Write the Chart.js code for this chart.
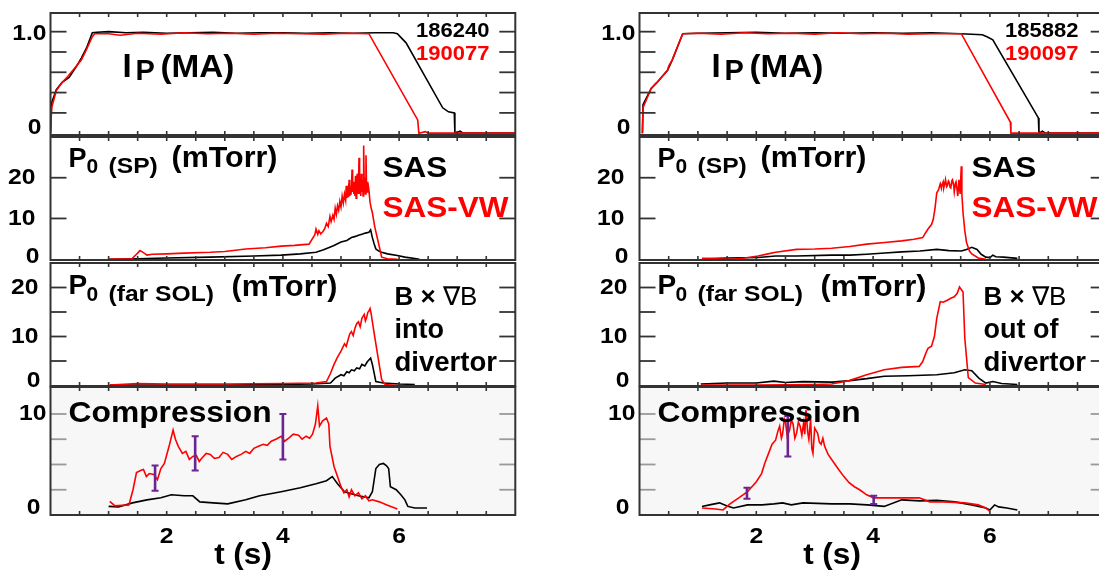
<!DOCTYPE html>
<html><head><meta charset="utf-8">
<script src="https://cdn.jsdelivr.net/npm/chart.js@4.4.1/dist/chart.umd.min.js"></script>
<style>
html,body{margin:0;padding:0;width:1099px;height:577px;overflow:hidden;background:#fff;}
body{position:relative;}
canvas{position:absolute;top:0;}
</style></head><body>
<script>
// ---------------- DATA ----------------
const shotsLeft = ['186240', '190077'];
const shotsRight = ['185882', '190097'];
const xTicks = [0.5, 1, 1.5, 2, 2.5, 3, 3.5, 4, 4.5, 5, 5.5, 6, 6.5, 7, 7.5, 8];
const xLabels = [2, 4, 6];

// Ip (MA) left
const ipL_blk_t = [0, 0.02, 0.1, 0.2, 0.32, 0.45, 0.53, 0.62, 0.72, 0.8, 1.0, 1.3, 1.6, 2.0, 2.4, 2.8, 3.2, 3.6, 4.0, 4.4, 4.8, 5.2, 5.6, 5.9, 5.97, 6.12, 6.75, 6.85, 6.95, 6.96, 7.05, 7.1, 8.0];
const ipL_blk_v = [0, 0.3, 0.43, 0.5, 0.55, 0.66, 0.74, 0.84, 0.99, 0.995, 1.0, 0.99, 0.995, 0.985, 0.99, 0.995, 0.985, 0.99, 0.99, 0.985, 0.99, 0.985, 0.99, 0.99, 0.98, 0.89, 0.25, 0.21, 0.2, 0.0, 0.02, 0.0, 0.0];
const ipL_red_t = [0, 0.02, 0.1, 0.2, 0.3, 0.4, 0.5, 0.53, 0.6, 0.72, 0.76, 1.0, 1.2, 1.5, 1.9, 2.3, 2.7, 3.1, 3.5, 3.9, 4.3, 4.7, 5.1, 5.48, 6.32, 6.34, 6.45, 6.5, 8.0];
const ipL_red_v = [0, 0.25, 0.42, 0.5, 0.56, 0.63, 0.7, 0.72, 0.8, 0.95, 0.98, 0.98, 0.965, 0.985, 0.975, 0.99, 0.98, 0.985, 0.975, 0.985, 0.98, 0.975, 0.985, 0.98, 0.13, 0.0, 0.015, 0.0, 0.0];
// Ip (MA) right
const ipR_blk_t = [0.05, 0.06, 0.2, 0.3, 0.48, 0.56, 0.74, 1.0, 1.5, 2.0, 2.5, 3.0, 3.5, 4.0, 4.5, 5.0, 5.5, 5.87, 5.95, 6.05, 6.83, 6.84, 6.9, 6.95, 8.0];
const ipR_blk_v = [0, 0.28, 0.44, 0.5, 0.62, 0.72, 0.98, 0.985, 0.99, 0.995, 0.985, 0.99, 0.985, 0.99, 0.985, 0.99, 0.98, 0.97, 0.95, 0.92, 0.15, 0.0, 0.02, 0.0, 0.0];
const ipR_red_t = [0.05, 0.06, 0.2, 0.3, 0.48, 0.5, 0.56, 0.74, 1.0, 1.4, 1.8, 2.2, 2.6, 3.0, 3.4, 3.8, 4.2, 4.6, 5.0, 5.51, 6.35, 6.36, 8.0];
const ipR_red_v = [0, 0.25, 0.44, 0.5, 0.62, 0.66, 0.72, 0.98, 0.985, 0.975, 0.99, 0.98, 0.985, 0.975, 0.99, 0.98, 0.985, 0.975, 0.98, 0.98, 0.11, 0.0, 0.0];

// P0 (SP) left
const spL_blk_t = [0.99, 1.5, 2.0, 2.75, 3.5, 3.97, 4.3, 4.57, 4.7, 4.87, 5.0, 5.1, 5.18, 5.25, 5.3, 5.36, 5.42, 5.48, 5.51, 5.54, 5.57, 5.6, 5.65, 5.7, 5.8, 5.97, 6.1, 6.3, 6.35];
const spL_blk_v = [0, 0.1, 0.3, 0.5, 0.8, 1.0, 1.3, 1.7, 2.3, 3.3, 4.2, 4.6, 5.3, 5.6, 5.9, 6.1, 6.4, 6.6, 7.2, 5.3, 3.8, 2.5, 2.0, 1.7, 1.3, 0.9, 0.5, 0.1, 0];
const spL_red_t = [0.99, 1.4, 1.48, 1.54, 1.6, 1.66, 1.75, 2.0, 2.3, 2.75, 3.0, 3.36, 3.7, 3.97, 4.2, 4.45, 4.55, 4.57, 4.6, 4.62, 4.65, 4.69, 4.72, 4.75, 4.78, 4.81, 4.83, 4.86, 4.88, 4.9, 4.92, 4.94, 4.96, 4.98, 5.0, 5.02, 5.04, 5.06, 5.08, 5.09, 5.1, 5.12, 5.13, 5.14, 5.15, 5.16, 5.17, 5.18, 5.19, 5.2, 5.21, 5.22, 5.23, 5.24, 5.25, 5.26, 5.27, 5.28, 5.29, 5.3, 5.31, 5.32, 5.33, 5.34, 5.35, 5.36, 5.37, 5.38, 5.39, 5.4, 5.41, 5.42, 5.43, 5.44, 5.45, 5.46, 5.48, 5.5, 5.52, 5.54, 5.58, 5.63, 5.7, 5.8, 5.97];
const spL_red_v = [0, 0.1, 1.2, 2.1, 1.6, 1.0, 1.2, 1.3, 1.5, 1.7, 1.9, 2.5, 2.8, 3.2, 3.4, 3.7, 6.0, 7.4, 6.1, 7.0, 6.2, 6.8, 7.5, 8.8, 8.0, 10.5, 9.2, 10.8, 9.8, 12.5, 11.0, 13.1, 12.0, 14.2, 12.8, 15.5, 13.8, 16.0, 14.5, 18.0, 15.0, 17.0, 15.2, 19.5, 15.5, 18.0, 15.8, 17.1, 22.0, 16.5, 19.0, 16.0, 18.0, 15.5, 20.5, 15.0, 18.5, 21.0, 16.0, 17.5, 24.9, 16.0, 19.0, 15.5, 21.0, 16.5, 19.5, 15.5, 27.9, 17.5, 20.0, 16.0, 25.5, 17.0, 16.5, 19.0, 17.0, 14.0, 12.5, 11.4, 8.0, 4.9, 0.5, 0.1, 0];
// P0 (SP) right
const spR_blk_t = [1.07, 1.5, 2.03, 2.33, 2.69, 3.29, 3.6, 3.89, 4.2, 4.49, 4.8, 5.09, 5.3, 5.51, 5.6, 5.69, 5.78, 5.85, 5.93, 6.0, 6.05, 6.1, 6.23, 6.47];
const spR_blk_v = [0.1, 0.3, 0.4, 0.8, 0.8, 1.0, 1.0, 1.2, 1.5, 1.8, 2.0, 2.4, 2.1, 2.0, 2.4, 2.9, 2.4, 1.2, 0.5, 0.4, 1.0, 0.6, 0.5, 0.2];
const spR_red_t = [1.07, 1.3, 1.61, 1.8, 2.03, 2.2, 2.33, 2.69, 3.0, 3.29, 3.6, 3.89, 4.2, 4.49, 4.7, 4.85, 4.9, 4.94, 5.0, 5.03, 5.06, 5.09, 5.12, 5.15, 5.17, 5.18, 5.2, 5.21, 5.23, 5.24, 5.26, 5.27, 5.29, 5.3, 5.32, 5.33, 5.35, 5.36, 5.38, 5.39, 5.41, 5.42, 5.44, 5.45, 5.47, 5.49, 5.51, 5.52, 5.54, 5.57, 5.6, 5.65, 5.69, 5.8, 5.93];
const spR_red_v = [0.2, 0.1, 0, 0.3, 0.8, 1.3, 1.7, 2.4, 2.5, 2.7, 3.1, 3.7, 4.1, 4.5, 4.9, 5.3, 6.5, 7.4, 8.5, 9.8, 12.5, 16.3, 17.0, 18.5, 17.4, 18.3, 19.0, 17.5, 18.6, 19.5, 17.8, 18.0, 19.2, 19.0, 17.6, 17.5, 19.3, 19.5, 18.1, 16.5, 18.7, 19.0, 16.8, 15.5, 19.5, 16.0, 22.8, 16.0, 11.4, 7.0, 4.1, 2.0, 1.3, 0.3, 0];

// P0 (far SOL) left
const fsL_blk_t = [1.02, 2.0, 3.0, 4.0, 4.5, 4.82, 4.9, 5.0, 5.05, 5.1, 5.14, 5.18, 5.23, 5.27, 5.32, 5.36, 5.41, 5.45, 5.51, 5.54, 5.6, 5.73, 6.0, 6.27];
const fsL_blk_v = [0.1, 0.1, 0.1, 0.2, 0.3, 0.5, 1.5, 2.2, 2.0, 2.8, 2.6, 3.2, 3.0, 3.6, 3.4, 4.3, 4.0, 4.8, 5.6, 4.3, 0.8, 0.5, 0.3, 0.2];
const fsL_red_t = [1.02, 1.5, 2.0, 3.0, 4.0, 4.57, 4.75, 4.82, 4.88, 4.94, 5.0, 5.06, 5.09, 5.12, 5.15, 5.18, 5.21, 5.24, 5.27, 5.3, 5.33, 5.36, 5.4, 5.42, 5.44, 5.46, 5.48, 5.5, 5.52, 5.54, 5.58, 5.63, 5.7, 5.76, 5.97];
const fsL_red_v = [0.1, 0.4, 0.3, 0.3, 0.4, 0.5, 0.8, 2.5, 4.3, 5.8, 7.0, 8.5, 8.0, 9.3, 10.5, 11.0, 10.2, 11.7, 12.6, 13.0, 12.0, 13.7, 14.5, 13.2, 13.8, 14.9, 15.2, 15.7, 14.6, 13.0, 10.0, 6.3, 1.2, 0.2, 0];
// P0 (far SOL) right
const fsR_blk_t = [1.05, 1.5, 2.0, 2.3, 2.5, 2.8, 3.3, 3.6, 3.89, 4.19, 4.6, 5.09, 5.39, 5.57, 5.69, 5.81, 5.93, 6.05, 6.2, 6.47];
const fsR_blk_v = [0.3, 0.5, 0.5, 0.9, 0.6, 0.8, 0.7, 1.0, 1.4, 1.9, 2.0, 2.2, 2.6, 3.2, 3.0, 1.5, 0.5, 0.8, 0.4, 0.2];
const fsR_red_t = [1.07, 2.0, 3.0, 3.29, 3.59, 3.89, 4.19, 4.49, 4.79, 4.85, 4.9, 4.94, 5.0, 5.05, 5.09, 5.15, 5.2, 5.27, 5.33, 5.39, 5.44, 5.48, 5.54, 5.57, 5.63, 5.75, 5.93];
const fsR_red_v = [0.1, 0.1, 0.2, 0.3, 1.0, 2.2, 3.2, 3.7, 3.9, 4.9, 6.5, 7.6, 8.0, 10.0, 13.7, 17.1, 17.0, 17.4, 17.8, 18.1, 18.8, 20.1, 19.1, 9.7, 1.6, 0.5, 0.2];

// Compression left
const cpL_blk_t = [1.0, 1.17, 1.41, 1.66, 1.9, 2.08, 2.3, 2.45, 2.57, 2.8, 3.05, 3.36, 3.6, 3.97, 4.3, 4.57, 4.75, 4.85, 4.94, 5.06, 5.3, 5.48, 5.54, 5.6, 5.66, 5.73, 5.78, 5.82, 5.85, 5.95, 6.03, 6.1, 6.15, 6.27, 6.48];
const cpL_blk_v = [0.85, 0.8, 1.2, 1.5, 1.7, 2.0, 1.9, 1.9, 1.3, 1.2, 1.1, 1.5, 1.9, 2.3, 2.7, 3.1, 3.4, 3.8, 3.1, 2.3, 1.9, 1.7, 2.3, 4.6, 5.0, 5.1, 4.9, 4.6, 2.8, 2.5, 2.0, 1.5, 0.85, 0.7, 0.7];
const cpL_red_t = [1.02, 1.11, 1.35, 1.42, 1.48, 1.55, 1.6, 1.65, 1.7, 1.78, 1.84, 1.9, 1.96, 2.05, 2.11, 2.15, 2.2, 2.27, 2.33, 2.39, 2.45, 2.51, 2.56, 2.6, 2.68, 2.75, 2.82, 2.9, 2.97, 3.05, 3.12, 3.2, 3.28, 3.36, 3.43, 3.5, 3.58, 3.66, 3.73, 3.8, 3.88, 3.97, 4.03, 4.1, 4.18, 4.27, 4.33, 4.4, 4.46, 4.51, 4.56, 4.6, 4.63, 4.68, 4.75, 4.79, 4.81, 4.88, 4.94, 5.0, 5.05, 5.1, 5.14, 5.18, 5.24, 5.3, 5.36, 5.42, 5.48, 5.54, 5.66, 5.79, 5.97];
const cpL_red_v = [1.35, 0.9, 1.0, 2.5, 4.2, 4.4, 4.5, 3.8, 4.1, 4.0, 3.5, 4.6, 5.1, 7.0, 8.4, 7.5, 6.8, 6.1, 6.3, 5.5, 5.8, 5.9, 5.3, 5.6, 6.1, 6.0, 5.6, 5.7, 6.2, 6.0, 5.5, 5.8, 6.0, 6.3, 6.1, 6.6, 6.8, 7.0, 6.9, 7.3, 7.5, 7.8, 7.3, 7.6, 8.0, 7.9, 7.5, 7.8, 7.6, 8.0, 9.0, 10.8, 8.8, 9.3, 9.6, 9.0, 6.8, 4.8, 3.8, 2.8, 2.2, 2.5, 1.8, 2.5, 1.9, 2.2, 1.6, 1.9, 1.4, 1.5, 1.3, 1.0, 0.6];
const ebL_t = [1.8, 2.49, 4.0];
const ebL_lo = [2.4, 4.4, 5.5];
const ebL_hi = [4.9, 7.8, 10.0];
// Compression right
const cpR_blk_t = [1.07, 1.2, 1.37, 1.5, 1.61, 1.85, 2.1, 2.3, 2.45, 2.6, 2.8, 3.29, 3.6, 3.9, 4.19, 4.49, 4.8, 5.09, 5.4, 5.69, 5.93, 6.0, 6.08, 6.15, 6.29, 6.47];
const cpR_blk_v = [0.85, 1.0, 1.2, 0.9, 0.7, 1.0, 1.0, 1.1, 1.2, 1.0, 1.2, 1.1, 1.1, 1.0, 0.85, 1.5, 1.4, 1.45, 1.3, 1.0, 0.7, 0.5, 1.0, 0.8, 0.7, 0.5];
const cpR_red_t = [1.07, 1.3, 1.43, 1.55, 1.7, 1.85, 2.0, 2.09, 2.15, 2.21, 2.27, 2.33, 2.37, 2.4, 2.43, 2.45, 2.48, 2.5, 2.53, 2.57, 2.6, 2.63, 2.66, 2.69, 2.72, 2.75, 2.78, 2.81, 2.83, 2.85, 2.88, 2.9, 2.93, 2.95, 2.97, 3.0, 3.05, 3.08, 3.11, 3.14, 3.17, 3.23, 3.29, 3.35, 3.41, 3.5, 3.59, 3.68, 3.77, 3.89, 4.01, 4.2, 4.49, 4.79, 4.97, 5.2, 5.57, 5.8, 5.93, 5.99];
const cpR_red_v = [0.7, 0.6, 0.5, 1.1, 1.7, 2.3, 3.3, 4.1, 5.2, 6.1, 7.0, 7.4, 8.3, 8.8, 7.6, 8.0, 9.5, 9.2, 7.8, 8.4, 9.4, 9.0, 7.6, 8.1, 9.2, 8.8, 7.9, 9.1, 8.0, 10.4, 8.2, 7.5, 9.5, 6.6, 6.1, 8.6, 8.1, 7.2, 7.0, 7.6, 6.8, 6.0, 5.5, 5.0, 4.5, 3.8, 3.2, 2.8, 2.5, 2.0, 1.7, 1.7, 1.7, 1.7, 1.3, 1.3, 1.2, 1.0, 0.7, 0.4];
const ebR_t = [1.84, 2.54, 4.01];
const ebR_lo = [1.6, 5.8, 1.1];
const ebR_hi = [2.7, 9.8, 1.9];

// ---------------- LAYOUT / STYLE ----------------
const FONT = "'Liberation Sans', Arial, Helvetica, sans-serif";
const RED = '#ff0000', BLACK = '#000000', PURPLE = '#6a2590';
const H = 577;
const columns = [
  {left: 0, width: 549, plotL: 50.5, plotR: 515.3},
  {left: 550, width: 580, plotL: 639.5, plotR: 1106.7}
];
const panelGeom = [
  {top: 13, bottom: 135, ymin: -0.018, ymax: 1.184, yTicks: [0.2, 0.4, 0.6, 0.8, 1.0],
   yLabels: [[1.0, '1.0', -4, 2], [0, '0', -9, -5]], tickColor: '#333'},
  {top: 137, bottom: 260, ymin: -0.2, ymax: 30, yTicks: [10, 20],
   yLabels: [[20, '20', -15, 0], [10, '10', -15, 0], [0, '0', -11, -2]], tickColor: '#333'},
  {top: 263, bottom: 386, ymin: -0.1, ymax: 25, yTicks: [5, 10, 15, 20],
   yLabels: [[20, '20', -12, 0], [10, '10', -12, 0], [0, '0', -10, -5]], tickColor: '#333'},
  {top: 387, bottom: 515, ymin: 0, ymax: 12.67, yTicks: [2.5, 5, 7.5, 10],
   yLabels: [[10, '10', -4, 0], [0, '0', -10, -7]], tickColor: '#9a9a9a', bg: '#f7f7f7'}
];

function pts(t, v) { return t.map((x, i) => ({x: x, y: v[i]})); }
function lineDs(t, v, color) {
  return {data: pts(t, v), borderColor: color, borderWidth: 1.6, pointRadius: 0, tension: 0, fill: false};
}
function errDs(t, lo, hi) {
  return t.map((x, i) => ({
    data: [{x: x, y: lo[i]}, {x: x, y: hi[i]}], borderColor: PURPLE, borderWidth: 2.6,
    pointStyle: 'line', pointRadius: 3.5, pointBorderWidth: 2, pointBorderColor: PURPLE, tension: 0
  }));
}

function txt(ctx, s, x, y, size, o) {
  o = o || {};
  ctx.save();
  ctx.font = (o.weight || 'bold') + ' ' + size + 'px ' + FONT;
  ctx.fillStyle = o.color || '#000';
  ctx.textAlign = o.align || 'left';
  ctx.textBaseline = o.baseline || 'alphabetic';
  ctx.translate(x, y);
  ctx.scale(o.sx || 1, 1);
  ctx.fillText(s, 0, 0);
  const w = ctx.measureText(s).width * (o.sx || 1);
  ctx.restore();
  return w;
}

function annotations(ci, pi) {
  const right = ci === 1;
  const shots = right ? shotsRight : shotsLeft;
  if (pi === 0) return [
    {s: 'I', dx: 72, y: 77, size: 33},
    {s: 'P', dx: 85, y: 80, size: 29},
    {s: '(MA)', dx: 110, y: 77, size: 32, sx: 1.04},
    {s: shots[0], dx: 439, y: 37, size: 20, sx: 1.1, align: 'right'},
    {s: shots[1], dx: 439, y: 60, size: 20, sx: 1.1, align: 'right', color: RED}
  ];
  if (pi === 1) return [
    {s: 'P', dx: 18, y: 167, size: 27},
    {s: '0', dx: 36, y: 173, size: 20, sx: 1.05},
    {s: '(SP)', dx: 58, y: 173, size: 22, sx: 1.12},
    {s: '(mTorr)', dx: 121, y: 167, size: 29, sx: 1.05},
    {s: 'SAS', dx: 332, y: 177, size: 30, sx: 1.05},
    {s: 'SAS-VW', dx: 332, y: 217, size: 30, sx: 1.05, color: RED}
  ];
  if (pi === 2) return [
    {s: 'P', dx: 18, y: 294, size: 28},
    {s: '0', dx: 36, y: 301, size: 20, sx: 1.05},
    {s: '(far SOL)', dx: 58, y: 301, size: 22, sx: 1.12},
    {s: '(mTorr)', dx: 181, y: 296, size: 29, sx: 1.05},
    {parts: [{s: 'B \u00d7 ', weight: 'bold'}, {s: '\u2207B', weight: 'normal'}], dx: 344, y: 305, size: 26},
    {s: right ? 'out of' : 'into', dx: 344, y: 338, size: 27},
    {s: 'divertor', dx: 344, y: 371, size: 27, sx: 1.02}
  ];
  return [
    {s: 'Compression', dx: 18, y: 422, size: 30, sx: 1.06},
    {s: 't (s)', dx: 192.5, y: 564, size: 30, sx: 1.05, align: 'center'}
  ];
}

function framePlugin(ci, pi) {
  const g = panelGeom[pi];
  return {
    id: 'frame' + ci + pi,
    beforeDatasetsDraw(chart) {
      const {ctx, chartArea: a} = chart;
      if (g.bg) {
        ctx.save(); ctx.fillStyle = g.bg;
        ctx.fillRect(a.left, a.top, a.right - a.left, a.bottom - a.top);
        ctx.restore();
      }
    },
    afterDatasetsDraw(chart) {
      const {ctx, chartArea: a} = chart;
      const xs = chart.scales.x, ys = chart.scales.y;
      ctx.save();
      const seg = (x1, y1, x2, y2) => { ctx.beginPath(); ctx.moveTo(x1, y1); ctx.lineTo(x2, y2); ctx.stroke(); };
      ctx.strokeStyle = '#333'; ctx.lineWidth = 1.6;
      for (const t of xTicks) {
        const px = xs.getPixelForValue(t);
        if (px >= a.right - 1) continue;
        seg(px, a.top, px, a.top + 4);
        seg(px, a.bottom, px, a.bottom - 4);
      }
      ctx.strokeStyle = g.tickColor; ctx.lineWidth = 1.8;
      for (const v of g.yTicks) {
        const py = ys.getPixelForValue(v);
        seg(a.left, py, a.left + 16, py);
        seg(a.right, py, a.right - 16, py);
      }
      ctx.strokeStyle = '#333'; ctx.lineWidth = 2;
      ctx.strokeRect(a.left, a.top, a.right - a.left, a.bottom - a.top);
      ctx.restore();
    },
    afterDraw(chart) {
      const {ctx, chartArea: a} = chart;
      const xs = chart.scales.x, ys = chart.scales.y;
      for (const [v, s, dx, dy] of g.yLabels) {
        txt(ctx, s, a.left + dx, ys.getPixelForValue(v) + dy, 22, {align: 'right', baseline: 'middle', sx: 1.12});
      }
      if (pi === 3) {
        for (const t of xLabels) {
          txt(ctx, String(t), xs.getPixelForValue(t), 537, 22, {align: 'center', baseline: 'middle', sx: 1.12});
        }
      }
      for (const an of annotations(ci, pi)) {
        if (an.parts) {
          let x = a.left + an.dx;
          for (const p of an.parts) {
            x += txt(ctx, p.s, x, an.y, an.size, {weight: p.weight, sx: an.sx});
          }
        } else {
          txt(ctx, an.s, a.left + an.dx, an.y, an.size, {color: an.color, sx: an.sx, align: an.align});
        }
      }
    }
  };
}

const panelData = [
  [ // left column
    [lineDs(ipL_red_t, ipL_red_v, RED), lineDs(ipL_blk_t, ipL_blk_v, BLACK)],
    [lineDs(spL_red_t, spL_red_v, RED), lineDs(spL_blk_t, spL_blk_v, BLACK)],
    [lineDs(fsL_red_t, fsL_red_v, RED), lineDs(fsL_blk_t, fsL_blk_v, BLACK)],
    [...errDs(ebL_t, ebL_lo, ebL_hi), lineDs(cpL_red_t, cpL_red_v, RED), lineDs(cpL_blk_t, cpL_blk_v, BLACK)]
  ],
  [ // right column
    [lineDs(ipR_red_t, ipR_red_v, RED), lineDs(ipR_blk_t, ipR_blk_v, BLACK)],
    [lineDs(spR_red_t, spR_red_v, RED), lineDs(spR_blk_t, spR_blk_v, BLACK)],
    [lineDs(fsR_red_t, fsR_red_v, RED), lineDs(fsR_blk_t, fsR_blk_v, BLACK)],
    [...errDs(ebR_t, ebR_lo, ebR_hi), lineDs(cpR_red_t, cpR_red_v, RED), lineDs(cpR_blk_t, cpR_blk_v, BLACK)]
  ]
];

columns.forEach((col, ci) => {
  panelGeom.forEach((g, pi) => {
    const cv = document.createElement('canvas');
    cv.width = col.width; cv.height = H;
    cv.style.left = col.left + 'px';
    cv.style.width = col.width + 'px'; cv.style.height = H + 'px';
    document.body.appendChild(cv);
    new Chart(cv, {
      type: 'line',
      data: {datasets: panelData[ci][pi]},
      options: {
        responsive: false, animation: false, devicePixelRatio: 1, events: [],
        layout: {padding: {left: col.plotL - col.left, right: col.left + col.width - col.plotR, top: g.top, bottom: H - g.bottom}},
        plugins: {legend: {display: false}, tooltip: {enabled: false}},
        scales: {
          x: {type: 'linear', display: false, min: 0, max: 8},
          y: {type: 'linear', display: false, min: g.ymin, max: g.ymax}
        }
      },
      plugins: [framePlugin(ci, pi)]
    });
  });
});
</script>
</body></html>
